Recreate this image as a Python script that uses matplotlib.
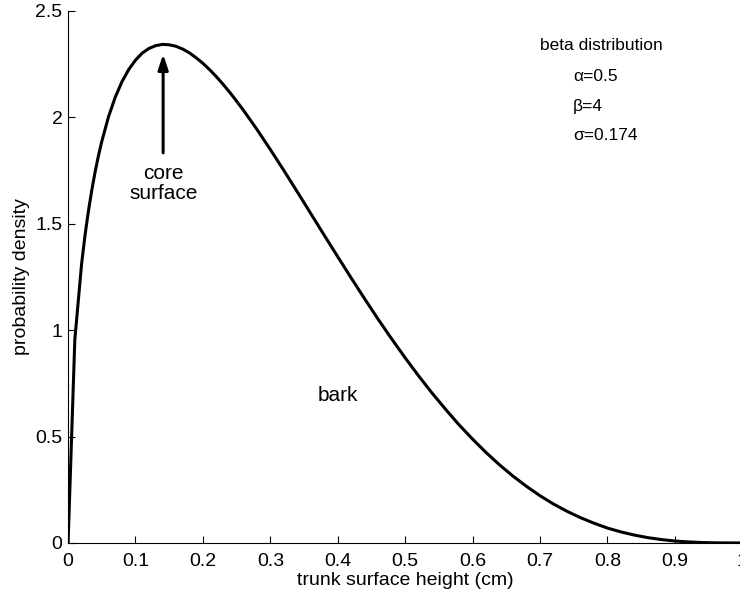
import matplotlib
matplotlib.use("Agg")
import matplotlib.pyplot as plt

plt.rcParams['font.family'] = ['Liberation Sans', 'DejaVu Sans']

# trunk surface height (cm) and probability density
height = [0.0, 0.01, 0.02, 0.025, 0.03, 0.035, 0.04, 0.045, 0.05, 0.06, 0.07, 0.08, 0.09,
          0.10, 0.11, 0.12, 0.13, 0.14, 0.15, 0.16, 0.17, 0.18, 0.19, 0.20,
          0.21, 0.22, 0.23, 0.24, 0.25, 0.26, 0.28, 0.30,
          0.32, 0.34, 0.36, 0.38, 0.40, 0.42, 0.44, 0.46, 0.48, 0.50,
          0.52, 0.54, 0.56, 0.58, 0.60, 0.62, 0.64, 0.66, 0.68, 0.70,
          0.72, 0.74, 0.76, 0.78, 0.80, 0.82, 0.84, 0.86, 0.88, 0.90,
          0.92, 0.94, 0.96, 0.98, 1.00]
density = [0.0, 0.955, 1.310, 1.443, 1.556, 1.655, 1.742, 1.819, 1.887, 2.003, 2.095, 2.168, 2.225,
           2.269, 2.302, 2.324, 2.337, 2.343, 2.341, 2.334, 2.321, 2.303, 2.280, 2.254,
           2.224, 2.191, 2.155, 2.117, 2.076, 2.034, 1.944, 1.849,
           1.751, 1.650, 1.548, 1.446, 1.345, 1.245, 1.147, 1.051, 0.959, 0.870,
           0.785, 0.704, 0.628, 0.555, 0.488, 0.425, 0.367, 0.314, 0.266, 0.222,
           0.183, 0.149, 0.119, 0.093, 0.070, 0.052, 0.037, 0.025, 0.016, 0.009,
           0.005, 0.002, 0.0006, 0.0001, 0.0]

xticks = [0, 0.1, 0.2, 0.3, 0.4, 0.5, 0.6, 0.7, 0.8, 0.9, 1]
xticklabels = ['0', '0.1', '0.2', '0.3', '0.4', '0.5', '0.6', '0.7', '0.8', '0.9', '1']
yticks = [0, 0.5, 1, 1.5, 2, 2.5]
yticklabels = ['0', '0.5', '1', '1.5', '2', '2.5']

fig = plt.figure(figsize=(7.4, 5.96), dpi=100)
ax = fig.add_axes([0.092, 0.089, 0.911, 0.8926])

ax.plot(height, density, color='black', lw=2.2, solid_joinstyle='round')

ax.set_xlim(0, 1)
ax.set_ylim(0, 2.5)
ax.set_xticks(xticks)
ax.set_xticklabels(xticklabels)
ax.set_yticks(yticks)
ax.set_yticklabels(yticklabels)
ax.tick_params(direction='in', length=5, width=0.8, labelsize=14)
ax.tick_params(axis='x', pad=7)
ax.tick_params(axis='y', pad=4)
for side in ['top', 'right']:
    ax.spines[side].set_visible(False)

ax.set_xlabel('trunk surface height (cm)', fontsize=14, labelpad=2)
ax.set_ylabel('probability density', fontsize=14, labelpad=4)

# annotations
ax.annotate('', xy=(0.141, 2.31), xytext=(0.141, 1.82),
            arrowprops=dict(arrowstyle='-|>,head_length=0.9,head_width=0.3',
                            color='black', lw=2.2))
ax.text(0.141, 1.69, 'core\nsurface', ha='center', va='center', fontsize=15,
        linespacing=1.1)
ax.text(0.40, 0.695, 'bark', ha='center', va='center', fontsize=15)
ax.text(0.700, 2.34, 'beta distribution', ha='left', va='center', fontsize=12.5)
ax.text(0.749, 2.19, 'α=0.5', ha='left', va='center', fontsize=12.5)
ax.text(0.749, 2.05, 'β=4', ha='left', va='center', fontsize=12.5)
ax.text(0.749, 1.915, 'σ=0.174', ha='left', va='center', fontsize=12.5)

fig.savefig('out.png', dpi=100)
